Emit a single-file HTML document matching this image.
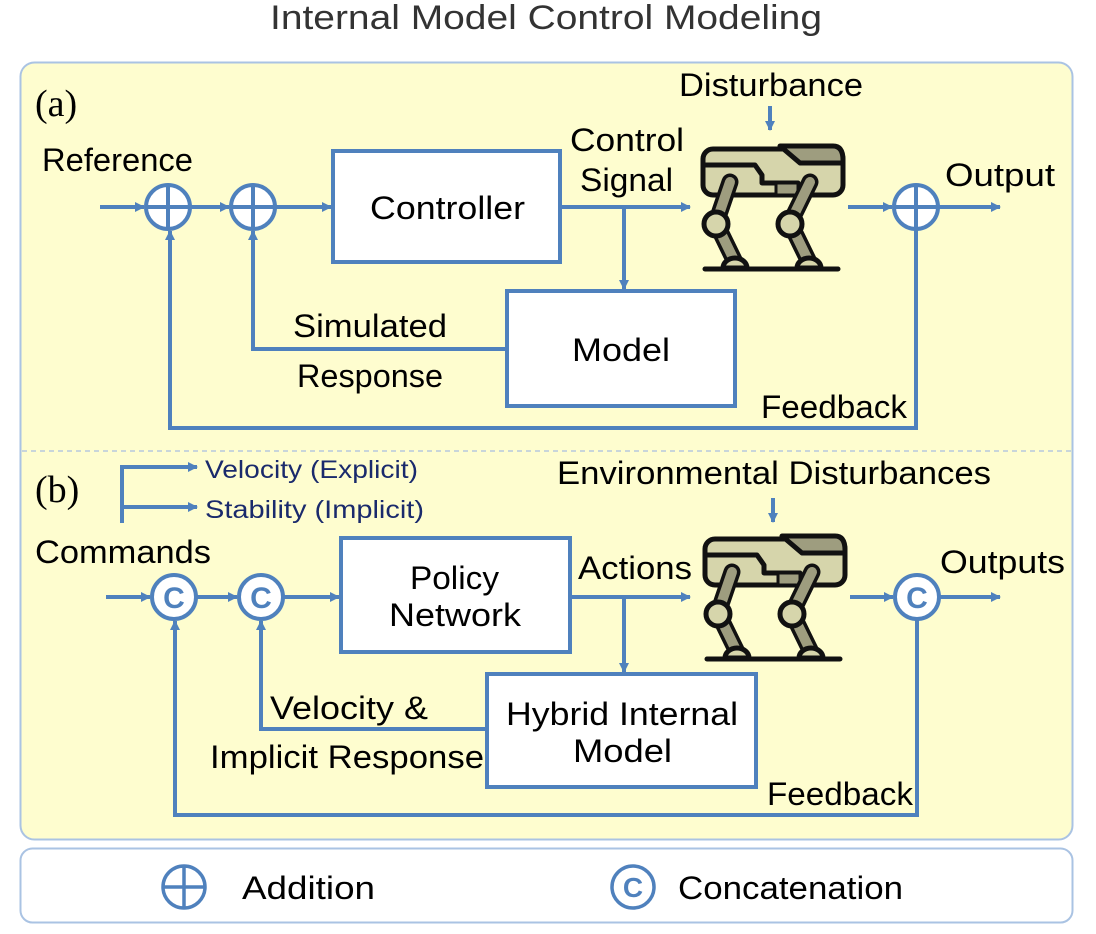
<!DOCTYPE html>
<html><head><meta charset="utf-8"><style>
html,body{margin:0;padding:0;background:#fff}
svg{display:block}
text{font-family:"Liberation Sans","DejaVu Sans",sans-serif;fill:#000}
</style></head><body>
<svg width="1096" height="934" viewBox="0 0 1096 934" xmlns="http://www.w3.org/2000/svg">
<defs>
<marker id="ar" markerWidth="10" markerHeight="10" refX="9" refY="5" orient="auto" markerUnits="userSpaceOnUse">
<path d="M0,0 L10,5 L0,10 z" fill="#4f81bd"/></marker>
<g id="robot" stroke="#111" stroke-width="5" stroke-linejoin="round" stroke-linecap="round">
<rect x="23" y="29" width="140" height="46" rx="10" fill="#d6d5ab"/>
<path d="M100,26 L153,26 Q163,26 163,40 L163,43 L120,43 Z" fill="#9e9d7f"/>
<path d="M23,45 L75,45 L82,55 L82,63 L118,63 L118,75" fill="none"/>
<rect x="96" y="63" width="22" height="12" fill="#9e9d7f" stroke-width="3"/>
<line x1="50" y1="62" x2="36" y2="103" stroke-width="17" stroke="#111"/>
<line x1="50" y1="62" x2="36" y2="103" stroke-width="10" stroke="#9e9d7f"/>
<line x1="36" y1="103" x2="55" y2="142" stroke-width="17" stroke="#111"/>
<line x1="36" y1="103" x2="55" y2="142" stroke-width="10" stroke="#9e9d7f"/>
<circle cx="36" cy="104" r="12" fill="#d6d5ab"/>
<path d="M43,148 A12,10 0 0 1 67,148 Z" fill="#d6d5ab"/>
<line x1="130" y1="62" x2="110" y2="103" stroke-width="17" stroke="#111"/>
<line x1="130" y1="62" x2="110" y2="103" stroke-width="10" stroke="#9e9d7f"/>
<line x1="110" y1="103" x2="129" y2="142" stroke-width="17" stroke="#111"/>
<line x1="110" y1="103" x2="129" y2="142" stroke-width="10" stroke="#9e9d7f"/>
<circle cx="110" cy="104" r="12" fill="#d6d5ab"/>
<path d="M117,148 A12,10 0 0 1 141,148 Z" fill="#d6d5ab"/>
<line x1="25" y1="149" x2="158" y2="149"/>
</g>
<g id="plus"><circle r="22" fill="#fff" stroke="#4f81bd" stroke-width="4"/><line x1="-22" y1="0" x2="22" y2="0" stroke="#4f81bd" stroke-width="4"/><line x1="0" y1="-22" x2="0" y2="22" stroke="#4f81bd" stroke-width="4"/></g>
<g id="cc"><circle r="22" fill="#fff" stroke="#4f81bd" stroke-width="4"/><text x="0" y="11" text-anchor="middle" font-size="30" font-weight="bold" style="fill:#4f81bd">C</text></g>
</defs>

<text x="270" y="29" font-size="34" textLength="552" lengthAdjust="spacingAndGlyphs" style="fill:#333">Internal Model Control Modeling</text>

<rect x="20.5" y="62.5" width="1052" height="777" rx="14" fill="#fefdcf" stroke="#aac3e3" stroke-width="2"/>
<line x1="22" y1="451" x2="1071" y2="451" stroke="#b5c8de" stroke-width="1.5" stroke-dasharray="5,4"/>
<rect x="20.5" y="848.5" width="1052" height="74" rx="12" fill="#fff" stroke="#aac3e3" stroke-width="2"/>

<g stroke="#4f81bd" stroke-width="4" fill="none">
<line x1="100" y1="207" x2="144" y2="207" marker-end="url(#ar)"/>
<line x1="190" y1="207" x2="229" y2="207" marker-end="url(#ar)"/>
<line x1="275" y1="207" x2="331" y2="207" marker-end="url(#ar)"/>
<line x1="560" y1="207" x2="690" y2="207" marker-end="url(#ar)"/>
<line x1="624" y1="207" x2="624" y2="289" marker-end="url(#ar)"/>
<polyline points="507,349 253,349 253,231" marker-end="url(#ar)"/>
<polyline points="916,229 916,428 170,428 170,231" marker-end="url(#ar)"/>
<line x1="848" y1="207" x2="892" y2="207" marker-end="url(#ar)"/>
<line x1="938" y1="207" x2="1000" y2="207" marker-end="url(#ar)"/>
<line x1="770" y1="106" x2="770" y2="130" marker-end="url(#ar)"/>
<polyline points="122,523 122,467 197,467" marker-end="url(#ar)"/>
<line x1="122" y1="507" x2="197" y2="507" marker-end="url(#ar)"/>
<line x1="106" y1="597" x2="150" y2="597" marker-end="url(#ar)"/>
<line x1="196" y1="597" x2="237" y2="597" marker-end="url(#ar)"/>
<line x1="283" y1="597" x2="339" y2="597" marker-end="url(#ar)"/>
<line x1="570" y1="597" x2="690" y2="597" marker-end="url(#ar)"/>
<line x1="624" y1="597" x2="624" y2="672" marker-end="url(#ar)"/>
<polyline points="487,729 261,729 261,621" marker-end="url(#ar)"/>
<polyline points="917,619 917,815 175,815 175,621" marker-end="url(#ar)"/>
<line x1="850" y1="597" x2="893" y2="597" marker-end="url(#ar)"/>
<line x1="939" y1="597" x2="1000" y2="597" marker-end="url(#ar)"/>
<line x1="773" y1="498" x2="773" y2="522" marker-end="url(#ar)"/>
</g>

<rect x="333" y="151" width="227" height="111" fill="#fff" stroke="#4f81bd" stroke-width="4"/>
<rect x="507" y="291" width="228" height="115" fill="#fff" stroke="#4f81bd" stroke-width="4"/>
<rect x="341" y="538" width="229" height="114" fill="#fff" stroke="#4f81bd" stroke-width="4"/>
<rect x="487" y="674" width="269" height="113" fill="#fff" stroke="#4f81bd" stroke-width="4"/>

<use href="#plus" x="168" y="207"/><use href="#plus" x="253" y="207"/><use href="#plus" x="916" y="207"/>
<use href="#cc" x="174" y="597"/><use href="#cc" x="261" y="597"/><use href="#cc" x="917" y="597"/>

<use href="#robot" x="680" y="120"/>
<use href="#robot" x="682" y="510"/>

<g font-size="32">
<text x="35" y="116" font-size="38" style="font-family:'Liberation Serif',serif">(a)</text>
<text x="42" y="171" textLength="151" lengthAdjust="spacingAndGlyphs">Reference</text>
<text x="370" y="219" textLength="155" lengthAdjust="spacingAndGlyphs">Controller</text>
<text x="570" y="151" textLength="114" lengthAdjust="spacingAndGlyphs">Control</text>
<text x="580" y="191" textLength="93" lengthAdjust="spacingAndGlyphs">Signal</text>
<text x="679" y="96" textLength="184" lengthAdjust="spacingAndGlyphs">Disturbance</text>
<text x="945" y="186" textLength="110" lengthAdjust="spacingAndGlyphs">Output</text>
<text x="572" y="361" textLength="98" lengthAdjust="spacingAndGlyphs">Model</text>
<text x="293" y="337" textLength="154" lengthAdjust="spacingAndGlyphs">Simulated</text>
<text x="297" y="387" textLength="146" lengthAdjust="spacingAndGlyphs">Response</text>
<text x="761" y="418" textLength="146" lengthAdjust="spacingAndGlyphs">Feedback</text>

<text x="35" y="502" font-size="38" style="font-family:'Liberation Serif',serif">(b)</text>
<text x="205" y="478" font-size="25" textLength="213" lengthAdjust="spacingAndGlyphs" style="fill:#1a2a6c">Velocity (Explicit)</text>
<text x="205" y="518" font-size="25" textLength="219" lengthAdjust="spacingAndGlyphs" style="fill:#1a2a6c">Stability (Implicit)</text>
<text x="35" y="563" textLength="176" lengthAdjust="spacingAndGlyphs">Commands</text>
<text x="410" y="589" textLength="89" lengthAdjust="spacingAndGlyphs">Policy</text>
<text x="389" y="626" textLength="132" lengthAdjust="spacingAndGlyphs">Network</text>
<text x="578" y="579" textLength="114" lengthAdjust="spacingAndGlyphs">Actions</text>
<text x="557" y="484" textLength="434" lengthAdjust="spacingAndGlyphs">Environmental Disturbances</text>
<text x="940" y="573" textLength="125" lengthAdjust="spacingAndGlyphs">Outputs</text>
<text x="506" y="725" textLength="232" lengthAdjust="spacingAndGlyphs">Hybrid Internal</text>
<text x="573" y="762" textLength="99" lengthAdjust="spacingAndGlyphs">Model</text>
<text x="270" y="719" textLength="158" lengthAdjust="spacingAndGlyphs">Velocity &amp;</text>
<text x="210" y="768" textLength="274" lengthAdjust="spacingAndGlyphs">Implicit Response</text>
<text x="767" y="805" textLength="146" lengthAdjust="spacingAndGlyphs">Feedback</text>

<text x="242" y="899" textLength="133" lengthAdjust="spacingAndGlyphs">Addition</text>
<text x="678" y="899" textLength="225" lengthAdjust="spacingAndGlyphs">Concatenation</text>
</g>
<g transform="translate(184,887)"><circle r="21" fill="none" stroke="#4f81bd" stroke-width="3.5"/><line x1="-21" y1="0" x2="21" y2="0" stroke="#4f81bd" stroke-width="3.5"/><line x1="0" y1="-21" x2="0" y2="21" stroke="#4f81bd" stroke-width="3.5"/></g>
<g transform="translate(633,887)"><circle r="21" fill="#fff" stroke="#4f81bd" stroke-width="3.5"/><text x="0" y="10" text-anchor="middle" font-size="28" font-weight="bold" style="fill:#4f81bd">C</text></g>
</svg>
</body></html>
